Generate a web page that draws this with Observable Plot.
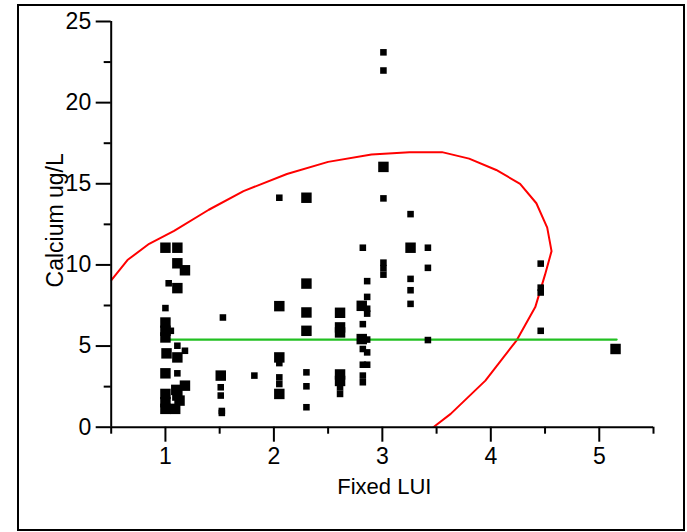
<!DOCTYPE html>
<html>
<head>
<meta charset="utf-8">
<script src="https://cdn.jsdelivr.net/npm/d3@7"></script>
<script src="https://cdn.jsdelivr.net/npm/@observablehq/plot@0.6"></script>
<style>
  html, body { margin: 0; padding: 0; background: #fff; }
  #wrap { position: relative; width: 687px; height: 532px; }
  #frame { position: absolute; left: 17px; top: 4px; width: 664px; height: 523px; border: 2px solid #000; pointer-events: none; }
  svg { display: block; }
</style>
</head>
<body>
<div id="wrap"><div id="frame"></div></div>
<script>
// Calcium concentration against fixed land-use intensity (LUI)
const xTicks = [1, 2, 3, 4, 5];
const xMinorTicks = [0.5, 1.5, 2.5, 3.5, 4.5, 5.5];
const yTicks = [0, 5, 10, 15, 20, 25];
const yMinorTicks = [2.5, 7.5, 12.5, 17.5, 22.5];

// Observations drawn with the larger marker
const largePoints = [
  [1.0, 11.06], [1.11, 11.06], [1.11, 10.1], [1.18, 9.67], [1.11, 8.57],
  [1.0, 6.45], [1.0, 5.94], [1.0, 5.53], [1.01, 4.55], [1.11, 4.3],
  [1.0, 3.32], [1.18, 2.56], [1.1, 2.3], [1.0, 2.05], [1.11, 1.95],
  [1.0, 1.54], [1.13, 1.64], [1.0, 1.13], [1.09, 1.13],
  [1.51, 3.18],
  [2.05, 7.46], [2.05, 4.3], [2.05, 2.05],
  [2.3, 14.14], [2.3, 8.85], [2.3, 7.07], [2.3, 5.94],
  [2.61, 7.05], [2.61, 6.15], [2.61, 5.84], [2.61, 3.25], [2.61, 2.85],
  [2.81, 7.48], [2.81, 5.43],
  [3.01, 16.04],
  [3.26, 11.06],
  [5.15, 4.82]
];

// Observations drawn with the smaller marker
const smallPoints = [
  [1.03, 8.87], [1.0, 7.34], [1.05, 5.94], [1.11, 5.02], [1.18, 4.71], [1.11, 3.32],
  [1.53, 6.76], [1.51, 2.46], [1.51, 1.95], [1.52, 1.0], [1.52, 0.88],
  [1.82, 3.18],
  [2.05, 14.14], [2.05, 3.95], [2.05, 3.07], [2.05, 2.66],
  [2.3, 3.38], [2.3, 2.52], [2.3, 1.23],
  [2.61, 2.45], [2.61, 2.05],
  [2.82, 11.06], [2.86, 9.0], [2.86, 8.03], [2.86, 7.3], [2.86, 7.0], [2.82, 6.35],
  [2.86, 5.4], [2.82, 4.82], [2.86, 4.61], [2.82, 3.85], [2.86, 3.85], [2.82, 3.18], [2.82, 2.77],
  [3.01, 23.1], [3.01, 21.98], [3.01, 14.1], [3.01, 10.14], [3.01, 9.8], [3.01, 9.4],
  [3.26, 13.13], [3.26, 9.14], [3.26, 8.44], [3.26, 7.6],
  [3.42, 11.06], [3.42, 9.82], [3.42, 5.37],
  [4.46, 10.08], [4.46, 8.6], [4.46, 8.3], [4.46, 5.94]
];

// Mean of Calcium across the LUI range
const meanLine = [[1.0, 5.4], [5.16, 5.4]];

// Bivariate density ellipse outline
const ellipse = [
  [0.5, 9.05], [0.65, 10.3], [0.85, 11.3], [1.08, 12.1], [1.4, 13.4], [1.72, 14.55],
  [2.12, 15.6], [2.5, 16.35], [2.9, 16.8], [3.25, 16.95], [3.55, 16.95], [3.8, 16.55],
  [4.05, 15.85], [4.27, 15.0], [4.42, 13.8], [4.52, 12.3], [4.56, 10.85], [4.5, 9.4],
  [4.41, 7.4], [4.24, 5.37], [3.95, 2.87], [3.63, 0.82], [3.47, 0]
];

const font = "Liberation Sans, Arial, sans-serif";

const chart = Plot.plot({
  width: 687,
  height: 532,
  marginLeft: 110.7,
  marginRight: 34,
  marginTop: 21,
  marginBottom: 105.3,
  style: { fontFamily: font, fontSize: "23px", background: "transparent", color: "#000" },
  x: { domain: [0.5, 5.5] },
  y: { domain: [0, 25] },
  marks: [
    Plot.line(ellipse, { x: d => d[0], y: d => d[1], stroke: "#ff0000", strokeWidth: 2, clip: true }),
    Plot.line(meanLine, { x: d => d[0], y: d => d[1], stroke: "#22c022", strokeWidth: 2.2 }),
    Plot.dot(largePoints, { x: d => d[0], y: d => d[1], symbol: "square", r: 5.9, fill: "#000", stroke: "none" }),
    Plot.dot(smallPoints, { x: d => d[0], y: d => d[1], symbol: "square", r: 3.7, fill: "#000", stroke: "none" }),
    Plot.ruleY([0], { stroke: "#000", strokeWidth: 2 }),
    Plot.ruleX([0.5], { stroke: "#000", strokeWidth: 2 }),
    Plot.axisX(xTicks, { tickSize: 15, tickPadding: 5, strokeWidth: 2, fontSize: 23, label: null }),
    Plot.axisX(xMinorTicks, { tickSize: 7, strokeWidth: 2, text: null, label: null }),
    Plot.axisY(yTicks, { tickSize: 15, tickPadding: 5, strokeWidth: 2, fontSize: 23, label: null }),
    Plot.axisY(yMinorTicks, { tickSize: 7, strokeWidth: 2, text: null, label: null }),
    Plot.text(["Fixed LUI"], { frameAnchor: "bottom", dy: 67, dx: 2, fontSize: 22, fill: "#000" }),
    Plot.text(["Calcium ug/L"], { frameAnchor: "left", rotate: -90, textAnchor: "middle", dx: -56, dy: -4, fontSize: 23, fill: "#000" })
  ]
});

document.getElementById("wrap").prepend(chart);
</script>
</body>
</html>
